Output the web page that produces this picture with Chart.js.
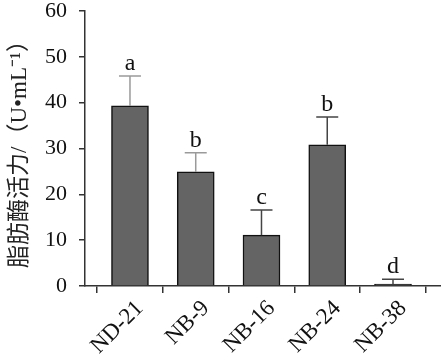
<!DOCTYPE html>
<html>
<head>
<meta charset="utf-8">
<script src="https://cdn.jsdelivr.net/npm/chart.js@4"></script>
<style>
html,body{margin:0;padding:0;background:#fff;}
#wrap{width:441px;height:362px;position:relative;}
</style>
</head>
<body>
<div id="wrap"><canvas id="c" width="441" height="362"></canvas></div>
<script>
const categories = ["ND-21", "NB-9", "NB-16", "NB-24", "NB-38"];
const values = [39.3, 24.9, 11.1, 30.8, 0.4];
const errors = [6.5, 4.2, 5.5, 6.1, 1.1];
const letters = ["a", "b", "c", "b", "d"];
const yTicks = [0, 10, 20, 30, 40, 50, 60];

const errColors = ["#9a9a9a", "#9a9a9a", "#444", "#444", "#444"];
const serif = "'Liberation Serif', 'Times New Roman', serif";

const errorPlugin = {
  id: 'errbars',
  afterDatasetsDraw(chart) {
    const ctx = chart.ctx;
    const meta = chart.getDatasetMeta(0);
    const y = chart.scales.y;
    ctx.save();
    meta.data.forEach((bar, i) => {
      const x = bar.x;
      const yTop = y.getPixelForValue(values[i]);
      const yCap = y.getPixelForValue(values[i] + errors[i]);
      ctx.strokeStyle = errColors[i];
      ctx.lineWidth = 1.5;
      ctx.beginPath();
      ctx.moveTo(x, yTop);
      ctx.lineTo(x, yCap);
      ctx.moveTo(x - 11, yCap);
      ctx.lineTo(x + 11, yCap);
      ctx.stroke();
      ctx.fillStyle = '#111';
      ctx.font = "24px " + serif;
      ctx.textAlign = 'center';
      ctx.textBaseline = 'alphabetic';
      ctx.fillText(letters[i], x, yCap - 6);
    });
    ctx.restore();
  }
};

new Chart(document.getElementById('c'), {
  type: 'bar',
  data: {
    datasets: [{
      data: categories.map((c, i) => ({x: i, y: values[i]})),
      backgroundColor: '#646464',
      borderColor: '#111',
      borderWidth: 1.5,
      barThickness: 37
    }]
  },
  options: {
    responsive: false,
    animation: false,
    layout: {padding: {top: 11, right: 0, left: 0, bottom: 0}},
    plugins: {legend: {display: false}, tooltip: {enabled: false}},
    scales: {
      x: {
        type: 'linear',
        min: -0.684,
        max: 4.73,
        offset: false,
        afterBuildTicks: (s) => { s.ticks = categories.map((c, i) => ({value: i})); },
        afterFit: (s) => { s.height = 76; s.paddingLeft = 0; s.paddingRight = 0; },
        grid: {drawOnChartArea: false, drawTicks: true, tickLength: 7, color: '#333', lineWidth: 1.5},
        border: {color: '#333', width: 1.5},
        ticks: {
          autoSkip: false,
          maxRotation: 45,
          minRotation: 45,
          padding: 2,
          labelOffset: 10,
          color: '#111',
          font: {family: serif, size: 23},
          callback: (v) => categories[v]
        }
      },
      y: {
        min: 0,
        max: 60,
        afterBuildTicks: (s) => { s.ticks = yTicks.map(v => ({value: v})); },
        afterFit: (s) => { s.width = 85; s.paddingTop = 0; s.paddingBottom = 0; },
        grid: {drawOnChartArea: false, drawTicks: true, tickLength: 6, color: '#333', lineWidth: 1.5},
        border: {color: '#333', width: 1.5},
        ticks: {
          padding: 12,
          color: '#111',
          font: {family: serif, size: 22}
        },
        title: {
          display: true,
          text: '脂肪酶活力/（U•mL⁻¹）',
          color: '#222',
          padding: {top: 6, bottom: 0},
          font: {family: "'Liberation Serif', 'Noto Sans CJK SC', serif", size: 23}
        }
      }
    }
  },
  plugins: [errorPlugin]
});
</script>
</body>
</html>
